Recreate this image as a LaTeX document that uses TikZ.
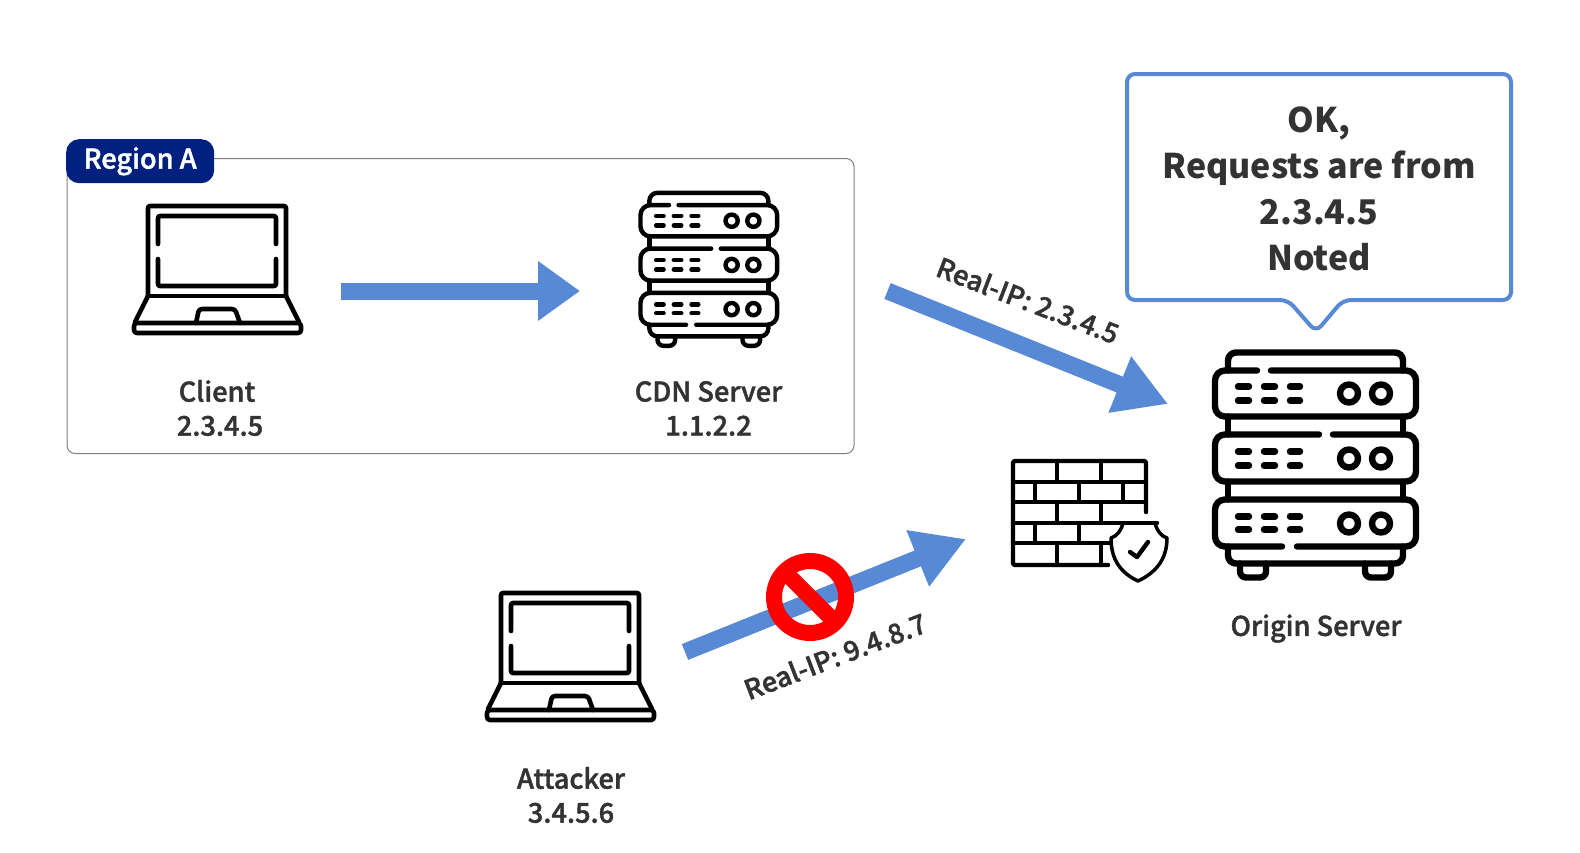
\documentclass[tikz,border=0pt]{standalone}
\usepackage{fontspec}
\setmainfont{Noto Sans CJK JP}
\newfontfamily\medfont[FakeBold=1.5]{Noto Sans CJK JP Medium}
\usetikzlibrary{arrows.meta}
\definecolor{arrowblue}{HTML}{5889D4}
\definecolor{regionblue}{HTML}{002080}
\definecolor{ink}{HTML}{333333}
\tikzset{
  lbl/.style={text=ink,font=\medfont\fontsize{27.2}{34}\selectfont,align=center,inner sep=0pt},
  bigarrow/.style={draw=arrowblue,line width=17pt,-{Triangle[length=52pt,width=57pt]}},
  icon/.style={draw=black,line cap=round,line join=round},
  laptop/.pic={
    \begin{scope}[shift={(-217,-269)},icon,line width=4.6pt]
      \draw[rounded corners=2pt] (148,296) -- (148,206) -- (286,206) -- (286,296);
      \draw[rounded corners=2pt] (158,244) -- (158,216) -- (276,216) -- (276,244);
      \draw[rounded corners=2pt] (158,259) -- (158,286) -- (276,286) -- (276,259);
      \draw (148,296) -- (286,296);
      \draw (148,296) -- (135,322);
      \draw (286,296) -- (299,322);
      \draw[rounded corners=3pt] (134,323) -- (301,323) -- (301,333) -- (134,333) -- cycle;
      \draw[rounded corners=3pt] (196,323) -- (199,309) -- (235,309) -- (240,323);
    \end{scope}
  },
  server/.pic={
    \begin{scope}[shift={(-1315,-464)},icon,line width=#1]
      \draw[rounded corners=8pt] (1228,370) -- (1228,352) -- (1403,352) -- (1403,370);
      \draw[rounded corners=10pt] (1271,370) -- (1416,370) -- (1416,416) -- (1215,416) -- (1215,370) -- (1257,370);
      \draw[rounded corners=10pt] (1333,434) -- (1416,434) -- (1416,481) -- (1215,481) -- (1215,434) -- (1319,434);
      \draw[rounded corners=10pt] (1297,546) -- (1416,546) -- (1416,499) -- (1215,499) -- (1215,546) -- (1282,546);
      \foreach \yy in {416,481}{
        \draw (1228,\yy) -- (1228,\yy+18);
        \draw (1403,\yy) -- (1403,\yy+18);
      }
      \draw[rounded corners=8pt] (1228,546) -- (1228,563) -- (1403,563) -- (1403,546);
      \draw[rounded corners=6pt] (1240,563) -- (1240,577) -- (1266,577) -- (1266,563);
      \draw[rounded corners=6pt] (1365,563) -- (1365,577) -- (1391,577) -- (1391,563);
      \foreach \ya/\yb/\yc in {386/400/393,451/465/458,516/529/523}{
        \foreach \xa/\xb in {1238/1249,1264/1275,1290/1300}{
          \draw (\xa,\ya) -- (\xb,\ya);
          \draw (\xa,\yb) -- (\xb,\yb);
        }
        \draw (1349,\yc) circle[radius=9];
        \draw (1381,\yc) circle[radius=9];
      }
    \end{scope}
  }
}
\begin{document}
\begin{tikzpicture}[x=1pt,y=-1pt]
\useasboundingbox[fill=white] (0,0) rectangle (1580,852);

% region
\node[draw=black!50,line width=1pt,rounded corners=8pt,minimum width=787pt,minimum height=295pt,anchor=north west,inner sep=0pt] (region) at (66.5,158) {};
\node[fill=regionblue,rounded corners=13pt,minimum width=148pt,minimum height=44pt,anchor=north west,inner sep=0pt,text=white,font=\medfont\fontsize{27.2}{30}\selectfont] (regionlabel) at (66,139) {\raisebox{-2.5pt}{Region A}};

% icons
\pic (clienticon) at (217,269) {laptop};
\pic (attackericon) at (570,656) {laptop};
\pic[scale=0.68] (cdnicon) at (708.5,269) {server=4.4pt};
\pic (originicon) at (1315,464.5) {server=6.4pt};

% firewall
\begin{scope}[icon,line width=4.4pt,rounded corners=2pt]
  \draw (1146,512) -- (1146,461) -- (1013,461) -- (1013,565) -- (1108,565);
\end{scope}
\begin{scope}[icon,line width=4.4pt]
  \draw (1013,482) -- (1146,482);
  \draw (1013,502) -- (1146,502);
  \draw (1013,523) -- (1157,523);
  \draw (1013,543) -- (1110,543);
  \foreach \xx in {1057,1101}{
    \draw (\xx,461) -- (\xx,482);
    \draw (\xx,502) -- (\xx,523);
    \draw (\xx,543) -- (\xx,565);
  }
  \foreach \xx in {1035,1079,1123}{\draw (\xx,482) -- (\xx,502);}
  \foreach \xx in {1035,1079}{\draw (\xx,523) -- (\xx,543);}
  \draw[fill=white,line width=3.5pt] (1123,523) -- (1155,523) .. controls (1157,531) and (1161,536) .. (1167,538) .. controls (1167,560) and (1155,573) .. (1138,581) .. controls (1121,573) and (1111,560) .. (1111,538) .. controls (1117,536) and (1121,531) .. (1123,523) -- cycle;
  \draw (1130,552) -- (1137,557) -- (1148,542);
\end{scope}

% labels
\node[lbl] (clientlabel) at (220,408) {Client\hspace*{6pt}\\2.3.4.5};
\node[lbl] (cdnlabel) at (708.5,408.5) {CDN Server\\1.1.2.2};
\node[lbl] (attackerlabel) at (571,795) {Attacker\\3.4.5.6};
\node[lbl] (originlabel) at (1316,628.5) {Origin Server};

% arrows
\coordinate (a1s) at (341,291);
\coordinate (a1e) at (580,291);
\coordinate (a2s) at (887.5,291);
\coordinate (a2e) at (1168,404);
\coordinate (a3s) at (685,652);
\coordinate (a3e) at (966,539);
\draw[bigarrow,-{Triangle[length=42pt,width=57pt]}] (a1s) -- (a1e);
\draw[bigarrow] (a2s) -- (a2e);
\draw[bigarrow] (a3s) -- (a3e);
\node[lbl,rotate=-21] (real1) at (1028,300) {Real-IP: 2.3.4.5};
\node[lbl,rotate=21] (real2) at (835,656) {Real-IP: 9.4.8.7};

% prohibition sign
\node[circle,draw=red,line width=16pt,minimum size=72pt,inner sep=0pt,outer sep=0pt] (ban) at (810,597) {};
\draw[red,line width=16pt] (ban.135) -- (ban.-45);

% callout
\draw[arrowblue,line width=4pt,rounded corners=8pt,line join=round] (1127,74) -- (1511,74) -- (1511,300) -- (1343,300) -- (1316,332) -- (1288,300) -- (1127,300) -- cycle;
\node[text=ink,font=\fontsize{34}{46}\selectfont\bfseries,align=center,inner sep=0pt] (callout) at (1319,189) {OK,\\Requests are from\\2.3.4.5\hspace*{8pt}\\Noted};
\end{tikzpicture}
\end{document}
